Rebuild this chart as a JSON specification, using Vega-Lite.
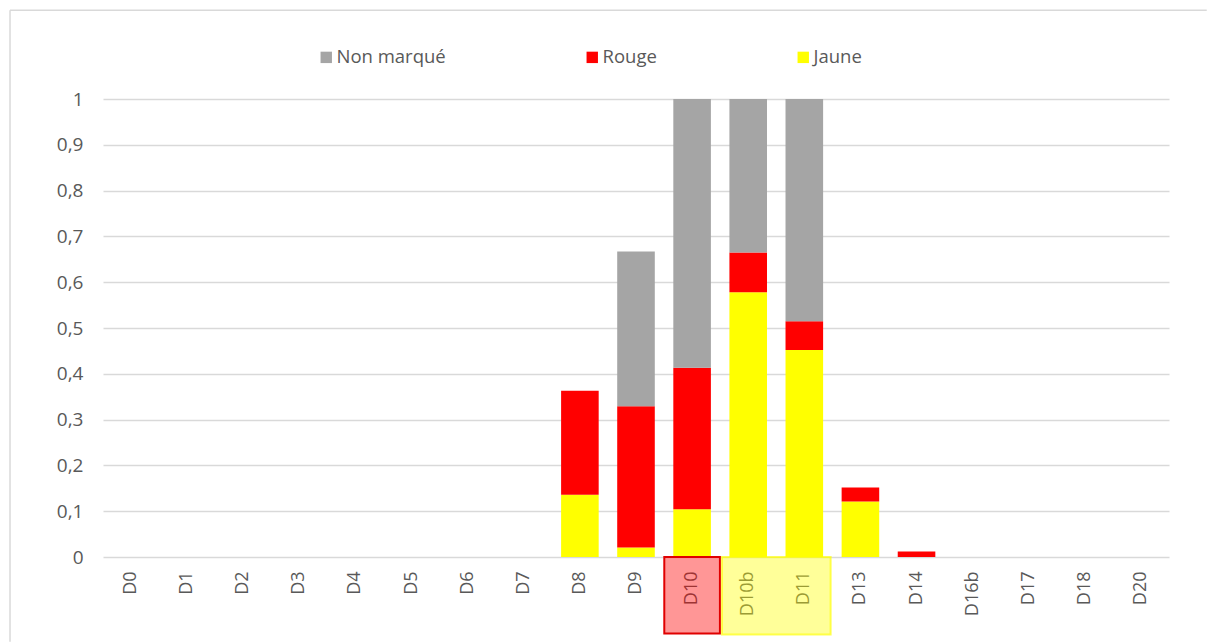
{
  "$schema": "https://vega.github.io/schema/vega-lite/v6.json",
  "width": 1066,
  "height": 458,
  "autosize": {"type": "none"},
  "padding": {"left": 103, "top": 99, "right": 39, "bottom": 86},
  "background": "white",
  "config": {
    "view": {"stroke": null},
    "font": "Open Sans"
  },
  "datasets": {
    "parts": [
      {"station": "D8", "serie": "Jaune", "rang": 1, "valeur": 0.136},
      {"station": "D8", "serie": "Rouge", "rang": 2, "valeur": 0.227},
      {"station": "D9", "serie": "Jaune", "rang": 1, "valeur": 0.021},
      {"station": "D9", "serie": "Rouge", "rang": 2, "valeur": 0.308},
      {"station": "D9", "serie": "Non marqué", "rang": 3, "valeur": 0.338},
      {"station": "D10", "serie": "Jaune", "rang": 1, "valeur": 0.104},
      {"station": "D10", "serie": "Rouge", "rang": 2, "valeur": 0.309},
      {"station": "D10", "serie": "Non marqué", "rang": 3, "valeur": 0.587},
      {"station": "D10b", "serie": "Jaune", "rang": 1, "valeur": 0.578},
      {"station": "D10b", "serie": "Rouge", "rang": 2, "valeur": 0.087},
      {"station": "D10b", "serie": "Non marqué", "rang": 3, "valeur": 0.335},
      {"station": "D11", "serie": "Jaune", "rang": 1, "valeur": 0.452},
      {"station": "D11", "serie": "Rouge", "rang": 2, "valeur": 0.063},
      {"station": "D11", "serie": "Non marqué", "rang": 3, "valeur": 0.485},
      {"station": "D13", "serie": "Jaune", "rang": 1, "valeur": 0.121},
      {"station": "D13", "serie": "Rouge", "rang": 2, "valeur": 0.031},
      {"station": "D14", "serie": "Rouge", "rang": 2, "valeur": 0.012}
    ],
    "surlignage": [
      {"debut": "D10", "fin": "D10", "groupe": "Rouge"},
      {"debut": "D10b", "fin": "D11", "groupe": "Jaune"}
    ],
    "cadre": [
      {"element": "bordure"}
    ]
  },
  "layer": [
    {
      "data": {"name": "parts"},
      "mark": {"type": "bar"},
      "encoding": {
        "x": {
          "field": "station",
          "type": "nominal",
          "scale": {
            "domain": ["D0", "D1", "D2", "D3", "D4", "D5", "D6", "D7", "D8", "D9", "D10", "D10b", "D11", "D13", "D14", "D16b", "D17", "D18", "D20"],
            "paddingInner": 0.33,
            "paddingOuter": 0.165
          },
          "axis": {
            "title": null,
            "labelAngle": -90,
            "labelFont": "Open Sans",
            "labelFontSize": 18,
            "labelColor": "#595959",
            "labelPadding": 14,
            "ticks": false,
            "domain": false,
            "grid": false,
            "zindex": 0
          }
        },
        "y": {
          "field": "valeur",
          "type": "quantitative",
          "stack": "zero",
          "scale": {"domain": [0, 1], "nice": false, "zero": true},
          "axis": {
            "title": null,
            "values": [0, 0.1, 0.2, 0.3, 0.4, 0.5, 0.6, 0.7, 0.8, 0.9, 1],
            "labelExpr": "replace(format(datum.value, '.1~f'), '.', ',')",
            "labelFont": "Open Sans",
            "labelFontSize": 19,
            "labelColor": "#595959",
            "labelPadding": 20,
            "ticks": false,
            "domain": false,
            "grid": true,
            "gridColor": "#d9d9d9",
            "gridWidth": 1.5
          }
        },
        "color": {
          "field": "serie",
          "type": "nominal",
          "scale": {
            "domain": ["Non marqué", "Rouge", "Jaune"],
            "range": ["#a5a5a5", "#ff0000", "#ffff00"]
          },
          "legend": {
            "title": null,
            "orient": "none",
            "direction": "horizontal",
            "legendX": 214,
            "legendY": -51,
            "padding": 0,
            "symbolType": "square",
            "symbolSize": 130,
            "symbolStrokeWidth": 0,
            "labelFont": "Open Sans",
            "labelFontSize": 18.5,
            "labelColor": "#595959",
            "labelOffset": 1,
            "columnPadding": 137,
            "labelLimit": 300
          }
        },
        "order": {"field": "rang", "type": "quantitative"}
      }
    },
    {
      "data": {"name": "surlignage"},
      "transform": [{"filter": "datum.groupe === 'Rouge'"}],
      "mark": {
        "type": "rect",
        "fill": "#ff0000",
        "fillOpacity": 0.41,
        "stroke": "#e00000",
        "strokeWidth": 2,
        "clip": false
      },
      "encoding": {
        "x": {"field": "debut", "type": "nominal", "bandPosition": -0.24},
        "x2": {"field": "fin", "bandPosition": 1.24},
        "y": {"datum": 0},
        "y2": {"datum": -0.167}
      }
    },
    {
      "data": {"name": "surlignage"},
      "transform": [{"filter": "datum.groupe === 'Jaune'"}],
      "mark": {
        "type": "rect",
        "fill": "#ffff00",
        "fillOpacity": 0.4,
        "stroke": "#ffff00",
        "strokeOpacity": 0.65,
        "strokeWidth": 2,
        "clip": false
      },
      "encoding": {
        "x": {"field": "debut", "type": "nominal", "bandPosition": -0.2},
        "x2": {"field": "fin", "bandPosition": 1.2},
        "y": {"datum": 0},
        "y2": {"datum": -0.169}
      }
    },
    {
      "data": {"name": "cadre"},
      "mark": {"type": "rule", "stroke": "#d9d9d9", "strokeWidth": 1.5, "clip": false},
      "encoding": {
        "x": {"datum": "D0", "bandPosition": -2.72},
        "x2": {"datum": "D20", "bandPosition": 2.25},
        "y": {"datum": 1.194}
      }
    },
    {
      "data": {"name": "cadre"},
      "mark": {"type": "rule", "stroke": "#d9d9d9", "strokeWidth": 1.5, "clip": false},
      "encoding": {
        "x": {"datum": "D0", "bandPosition": -2.72},
        "x2": {"datum": "D0", "bandPosition": -2.72},
        "y": {"datum": 1.194},
        "y2": {"datum": -0.185}
      }
    }
  ]
}
